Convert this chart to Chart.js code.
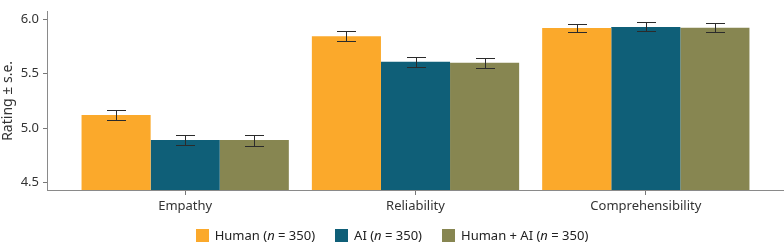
<!DOCTYPE html>
<html><head><meta charset="utf-8">
<script src="https://cdn.jsdelivr.net/npm/chart.js@4/dist/chart.umd.min.js"></script>
<style>
html,body{margin:0;padding:0;background:#fff;}
#wrap{position:relative;width:784px;height:244px;}
#legend{position:absolute;left:0;top:227px;width:784px;text-align:center;font-family:"Noto Sans",sans-serif;font-size:13px;color:#222;line-height:16px;white-space:nowrap;}
.li{display:inline-block;margin:0 10px;}
.sw{display:inline-block;width:13px;height:13px;vertical-align:-2px;margin-right:6px;}
</style></head>
<body>
<div id="wrap"><canvas id="c" width="784" height="244"></canvas>
<div id="legend"></div></div>
<script>
const categories = ["Empathy", "Reliability", "Comprehensibility"];
const seriesNames = ["Human", "AI", "Human + AI"];
const sampleSizes = [350, 350, 350];
const humanMeans = [5.12, 5.845, 5.92];
const humanSE = [0.044, 0.045, 0.038];
const aiMeans = [4.89, 5.61, 5.93];
const aiSE = [0.046, 0.045, 0.042];
const hybridMeans = [4.89, 5.60, 5.922];
const hybridSE = [0.05, 0.045, 0.04];
const yTicks = [4.5, 5.0, 5.5, 6.0];
const colors = ["#FBA92B", "#0F5F78", "#878651"];

const means = [humanMeans, aiMeans, hybridMeans];
const ses = [humanSE, aiSE, hybridSE];

const datasets = means.map((m, i) => ({
  label: seriesNames[i],
  data: m.map((v, j) => ({x: j + 1, y: v})),
  se: ses[i],
  backgroundColor: colors[i],
  borderWidth: 0,
  categoryPercentage: 0.9,
  barPercentage: 1.0
}));

const errorBars = {
  id: 'errorBars',
  afterDatasetsDraw(chart) {
    const ctx = chart.ctx, ys = chart.scales.y;
    ctx.save();
    ctx.strokeStyle = '#2b2b2b';
    ctx.lineWidth = 1;
    chart.data.datasets.forEach((ds, i) => {
      const meta = chart.getDatasetMeta(i);
      meta.data.forEach((el, j) => {
        const v = ds.data[j].y, s = ds.se[j];
        const x = Math.round(el.x) + 0.5;
        const t = Math.round(ys.getPixelForValue(v + s)) + 0.5;
        const b = Math.round(ys.getPixelForValue(v - s)) + 0.5;
        const w = 9.5;
        ctx.beginPath();
        ctx.moveTo(x, t); ctx.lineTo(x, b);
        ctx.moveTo(x - w, t); ctx.lineTo(x + w, t);
        ctx.moveTo(x - w, b); ctx.lineTo(x + w, b);
        ctx.stroke();
      });
    });
    ctx.restore();
  }
};

const font = {family: '"Noto Sans", sans-serif', size: 13};

new Chart(document.getElementById('c'), {
  type: 'bar',
  data: {datasets},
  options: {
    responsive: false,
    animation: false,
    layout: {padding: {left: 0, right: 0, top: 0, bottom: 24}},
    plugins: {legend: {display: false}, tooltip: {enabled: false}},
    scales: {
      x: {
        type: 'linear',
        offset: false,
        min: 0.4, max: 3.6,
        afterBuildTicks(s) { s.ticks = categories.map((c, i) => ({value: i + 1})); },
        afterFit(s) { s.height = 30; },
        ticks: {
          autoSkip: false, maxRotation: 0, padding: 3,
          color: '#333', font,
          callback: (v) => categories[Math.round(v) - 1]
        },
        grid: {display: true, offset: false, drawOnChartArea: false, drawTicks: true, tickLength: 5, color: '#777'},
        border: {display: true, color: '#8a8a8a', width: 1}
      },
      y: {
        min: 4.431, max: 6.069,
        afterBuildTicks(s) { s.ticks = yTicks.map(v => ({value: v})); },
        afterFit(s) { s.width = 47; },
        ticks: {
          color: '#333', font, padding: 4,
          callback: (v) => v.toFixed(1)
        },
        title: {display: true, text: 'Rating ± s.e.', color: '#333', font: {family: '"Noto Sans", sans-serif', size: 14}, padding: {top: 0, bottom: 1}},
        grid: {display: true, drawOnChartArea: false, drawTicks: true, tickLength: 4, color: '#777'},
        border: {display: true, color: '#8a8a8a', width: 1}
      }
    }
  },
  plugins: [errorBars]
});

const lg = document.getElementById('legend');
seriesNames.forEach((n, i) => {
  const d = document.createElement('span');
  d.className = 'li';
  d.innerHTML = '<span class="sw" style="background:' + colors[i] + '"></span>' + n + ' (<i>n</i> = ' + sampleSizes[i] + ')';
  lg.appendChild(d);
});
</script>
</body></html>
